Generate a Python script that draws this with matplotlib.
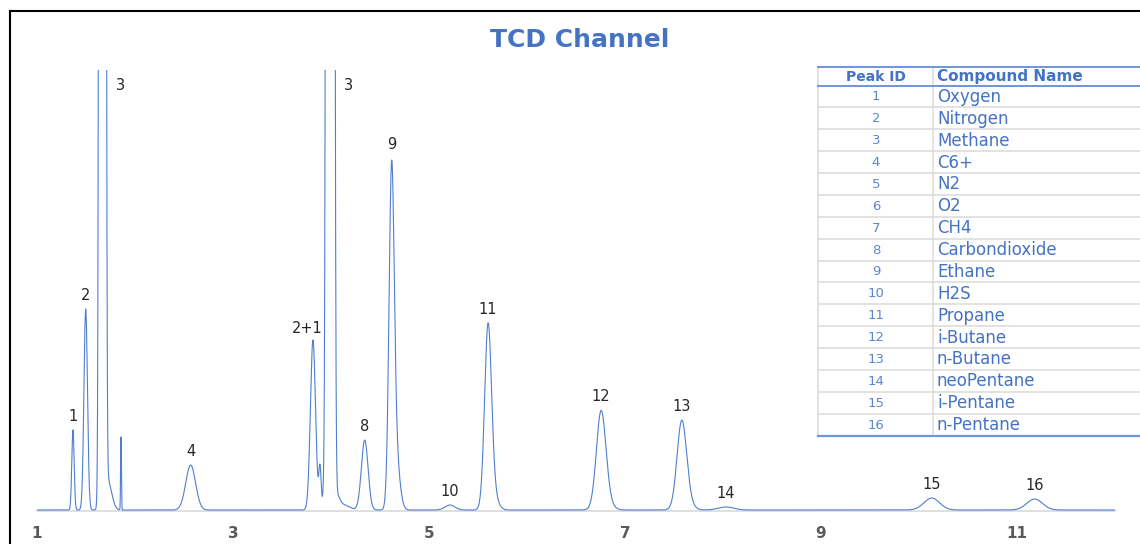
import numpy as np
import matplotlib.pyplot as plt
from matplotlib.lines import Line2D

plt.rcParams['font.family'] = 'DejaVu Sans'

# labelled peaks: retention time (min), height (mV), width (sigma, min)
peak_names = ["1", "2", "3", "4", "2+1", "3", "8", "9", "10", "11", "12", "13", "14", "15", "16"]
peak_rt = [1.367, 1.497, 1.668, 2.568, 3.816, 3.992, 4.344, 4.618, 5.214, 5.602, 6.755, 7.578, 8.03, 10.13, 11.18]
peak_height = [80, 201, 24000, 45, 170, 24000, 70, 310, 5, 172, 92, 82, 3, 12, 11]
peak_sigma = [0.012, 0.018, 0.0152, 0.05, 0.026, 0.0184, 0.034, 0.026, 0.05, 0.035, 0.048, 0.048, 0.08, 0.08, 0.08]

# unlabelled shoulders, tails and the valve switch spike
extra_rt = [1.72, 1.857, 3.888, 3.925, 4.06, 4.13, 4.655, 5.64, 6.80, 7.62]
extra_height = [30, 73, 42, 14, 12, 5, 60, 20, 10, 10]
extra_sigma = [0.04, 0.004, 0.012, 0.01, 0.03, 0.06, 0.04, 0.05, 0.06, 0.06]

# peak table
table_ids = [str(i) for i in range(1, 17)]
compounds = ["Oxygen", "Nitrogen", "Methane", "C6+", "N2", "O2", "CH4", "Carbondioxide",
             "Ethane", "H2S", "Propane", "i-Butane", "n-Butane", "neoPentane", "i-Pentane", "n-Pentane"]

x_ticks = [1, 3, 5, 7, 9, 11]

BLUE = '#4472C4'
W, H = 1140, 544

t = np.linspace(1, 12, 22001)
signal = np.zeros_like(t)
for rt, h, s in zip(peak_rt + extra_rt, peak_height + extra_height, peak_sigma + extra_sigma):
    signal += h * np.exp(-0.5 * ((t - rt) / s) ** 2)

fig = plt.figure(figsize=(W / 100, H / 100), dpi=100)
ax = fig.add_axes([37 / W, 1 - 511 / H, (1115 - 37) / W, (511 - 70) / H])

ax.plot(t, signal, color='#4f7fcf', lw=0.8, zorder=3)
ax.set_xlim(1, 12)
ax.set_ylim(-1, 440)
for side in ['top', 'right', 'left']:
    ax.spines[side].set_visible(False)
ax.spines['bottom'].set_color('#d9d9d9')
ax.spines['bottom'].set_linewidth(1.2)
ax.set_yticks([])
ax.set_xticks(x_ticks)
ax.set_xticklabels([str(v) for v in x_ticks], fontweight='bold')
ax.tick_params(axis='x', length=0, pad=11, labelsize=11, labelcolor='#595959')

# peak labels
top = ax.get_ylim()[1]
nudge = {'2+1': (-4, -2), '9': (0, 2)}
for name, rt in zip(peak_names, peak_rt):
    y = np.interp(rt, t, signal)
    if y > top:
        ax.annotate(name, xy=(rt, top), xytext=(13, -11.5), textcoords='offset points',
                    ha='center', va='center', fontsize=10.5, color='#262626', annotation_clip=False)
    else:
        dx, dy = nudge.get(name, (0, 0))
        ax.annotate(name, xy=(rt, y), xytext=(dx, 10 + dy), textcoords='offset points',
                    ha='center', va='center', fontsize=10.5, color='#262626', annotation_clip=False)

fig.text(580 / W, 1 - 40 / H, 'TCD Channel', ha='center', va='center',
         fontsize=18, fontweight='bold', color=BLUE)


def fline(x0, y0, x1, y1, **kw):
    fig.add_artist(Line2D([x0 / W, x1 / W], [1 - y0 / H, 1 - y1 / H],
                          transform=fig.transFigure, **kw))


# screenshot frame
fline(10, 11, 10, H, color='black', lw=1.5)
fline(10, 11, W, 11, color='black', lw=1.5)

# peak table
t_left, t_col, t_right = 818, 933, W + 5
t_top, head_bot = 66.5, 85.5
row_h = 21.875
t_bot = head_bot + row_h * len(compounds)

for k in range(1, len(compounds)):
    y = head_bot + row_h * k
    fline(t_left, y, t_right, y, color='#dadada', lw=1.1)
fline(t_left, t_top, t_left, t_bot, color='#dadada', lw=1.1)
fline(t_col, t_top, t_col, t_bot, color='#dadada', lw=1.1)
fline(t_left, t_top, t_right, t_top, color='#6f95d6', lw=1.4)
fline(t_left, head_bot, t_right, head_bot, color='#6f95d6', lw=1.4)
fline(t_left, t_bot, t_right, t_bot, color='#6f95d6', lw=1.6)

fig.text(876 / W, 1 - 77 / H, 'Peak ID', ha='center', va='center',
         fontsize=10, fontweight='bold', color=BLUE)
fig.text(937 / W, 1 - 77 / H, 'Compound Name', ha='left', va='center',
         fontsize=11, fontweight='bold', color=BLUE)
for i, (pid, name) in enumerate(zip(table_ids, compounds)):
    yc = head_bot + row_h * (i + 0.5) + 0.5
    fig.text(876 / W, 1 - yc / H, pid, ha='center', va='center', fontsize=9.5, color='#5b87cf')
    fig.text(937 / W, 1 - yc / H, name, ha='left', va='center', fontsize=12, color=BLUE)

fig.savefig('out.png', dpi=100)
